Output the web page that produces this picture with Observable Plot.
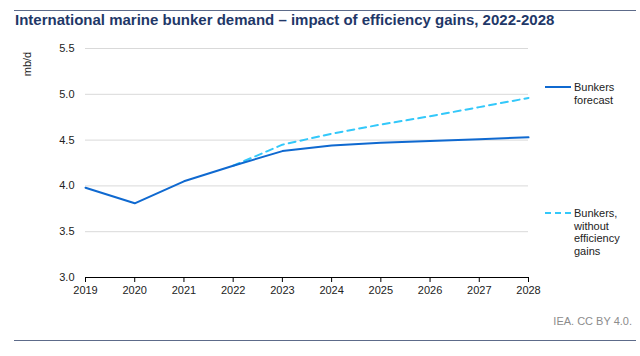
<!DOCTYPE html>
<html>
<head>
<meta charset="utf-8">
<script src="https://cdn.jsdelivr.net/npm/d3@7"></script>
<script src="https://cdn.jsdelivr.net/npm/@observablehq/plot@0.6"></script>
<style>
  body { margin: 0; background: #fff; font-family: "Liberation Sans", Arial, sans-serif; }
  #wrap { position: relative; width: 640px; height: 356px; overflow: hidden; }
  .rule { position: absolute; left: 14px; width: 622px; height: 1px; background: #5d6b8a; }
  #title { position: absolute; left: 15px; top: 11px; font-size: 15px; font-weight: bold; color: #1f3868; white-space: nowrap; }
  #ylabel { position: absolute; left: 10px; top: 58px; font-size: 11px; color: #222; transform: rotate(-90deg); transform-origin: center; width: 34px; text-align: center; }
  #chart { position: absolute; left: 0; top: 0; }
  .leg { position: absolute; font-size: 11px; color: #222; line-height: 12.6px; }
  .legline { position: absolute; width: 26px; height: 0; }
  #caption { position: absolute; right: 8px; top: 315px; font-size: 11px; color: #8c8c8c; }
</style>
</head>
<body>
<div id="wrap">
  <div class="rule" style="top:10px"></div>
  <div id="title">International marine bunker demand – impact of efficiency gains, 2022-2028</div>
  <div id="chart"></div>
  <div id="ylabel">mb/d</div>
  <div class="legline" style="left:545px; top:86px; border-top:2px solid #0f69d0;"></div>
  <div class="leg" style="left:574px; top:81px;">Bunkers<br>forecast</div>
  <div class="legline" style="left:545px; top:212px; border-top:2px dashed #33c8fa;"></div>
  <div class="leg" style="left:574px; top:207px;">Bunkers,<br>without<br>efficiency<br>gains</div>
  <div id="caption">IEA. CC BY 4.0.</div>
  <div class="rule" style="top:340px"></div>
</div>
<script>
const years = [2019, 2020, 2021, 2022, 2023, 2024, 2025, 2026, 2027, 2028];
const bunkersForecast = [3.98, 3.81, 4.05, 4.22, 4.38, 4.44, 4.47, 4.49, 4.51, 4.53];
const bunkersNoEfficiency = [null, null, null, 4.22, 4.45, 4.57, 4.67, 4.76, 4.86, 4.96];
const yTicks = [3.0, 3.5, 4.0, 4.5, 5.0, 5.5];

const solid = years.map((y, i) => ({year: y, value: bunkersForecast[i]}));
const dashed = years.map((y, i) => ({year: y, value: bunkersNoEfficiency[i]})).filter(d => d.value != null);

const chart = Plot.plot({
  width: 640,
  height: 300,
  marginTop: 48,
  marginLeft: 85,
  marginRight: 112,
  marginBottom: 23,
  style: {fontFamily: '"Liberation Sans", Arial, sans-serif', fontSize: "11px", color: "#222"},
  x: {domain: [2019, 2028], ticks: years, tickFormat: d3.format("d"), label: null},
  y: {domain: [3, 5.5], ticks: yTicks, tickFormat: d3.format(".1f"), label: null},
  marks: [
    Plot.gridY(yTicks, {stroke: "#d9d9d9", strokeOpacity: 1, strokeWidth: 1}),
    Plot.axisY(yTicks, {tickSize: 0, tickPadding: 11, tickFormat: d3.format(".1f"), label: null, fontSize: 11}),
    Plot.axisX(years, {tickSize: 5, tickPadding: 4, tickFormat: d3.format("d"), label: null, stroke: "#000", fontSize: 11}),
    Plot.ruleY([3], {stroke: "#000", strokeWidth: 1}),
    Plot.line(dashed, {x: "year", y: "value", stroke: "#33c8fa", strokeWidth: 2, strokeDasharray: "7,5"}),
    Plot.line(solid, {x: "year", y: "value", stroke: "#0f69d0", strokeWidth: 2})
  ]
});
document.getElementById("chart").appendChild(chart);
</script>
</body>
</html>
